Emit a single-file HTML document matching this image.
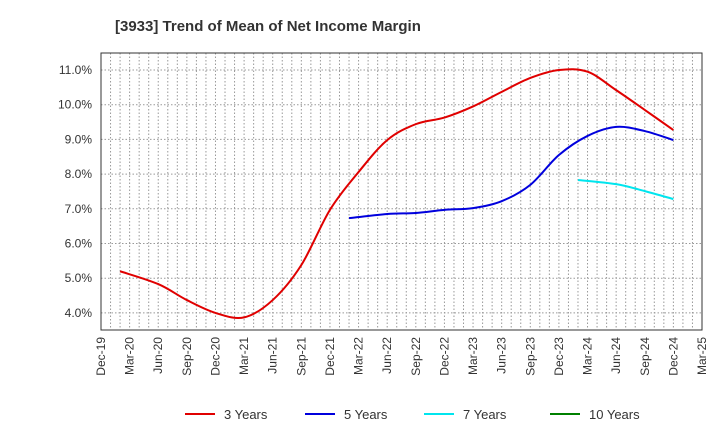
<!DOCTYPE html>
<html><head><meta charset="utf-8"><style>
body{margin:0;background:#fff;font-family:"Liberation Sans",sans-serif;}
</style></head><body>
<svg width="720" height="440" xmlns="http://www.w3.org/2000/svg" font-family="Liberation Sans, sans-serif">
<text x="115" y="31" font-size="15" font-weight="bold" fill="#333">[3933]  Trend of Mean of Net Income Margin</text>
<g id="grid"></g>
<rect x="101" y="53" width="601" height="277" fill="none" stroke="#333" stroke-width="1"/>
<g id="ylab"></g><g id="xlab"></g><g id="series"></g><g id="legend"></g>
</svg>
<script>
const xLabels=["Dec-19","Mar-20","Jun-20","Sep-20","Dec-20","Mar-21","Jun-21","Sep-21","Dec-21","Mar-22","Jun-22","Sep-22","Dec-22","Mar-23","Jun-23","Sep-23","Dec-23","Mar-24","Jun-24","Sep-24","Dec-24","Mar-25"];
const yTicks=[4,5,6,7,8,9,10,11];
const s3=[null,5.2,4.83,4.37,4.0,3.87,4.37,5.38,6.97,8.06,8.98,9.44,9.63,9.95,10.37,10.77,11.0,10.95,10.42,9.85,9.27];
const s5=[null,null,null,null,null,null,null,null,null,6.73,6.85,6.88,6.97,7.02,7.22,7.69,8.55,9.1,9.36,9.24,8.98];
const s7=[null,null,null,null,null,null,null,null,null,null,null,null,null,null,null,null,null,7.83,7.71,7.51,7.28];
const s10=[];
const firstOffset=-1/3;
const NS="http://www.w3.org/2000/svg";
const L=101,R=702,T=53,B=330;
const X=i=>L+i*(R-L)/21;
const Y=v=>70+(11-v)*34.7;
function mk(t,a,p){const e=document.createElementNS(NS,t);for(const k in a)e.setAttribute(k,a[k]);p.appendChild(e);return e;}
const g=document.getElementById('grid');
for(let m=1;m<63;m++){const x=L+m*(R-L)/63;const l=mk('line',{x1:x,x2:x,y1:T,y2:B,stroke:'#999','stroke-dasharray':'1.5,2','stroke-width':1},g);

}
const yl=document.getElementById('ylab');
yTicks.forEach(v=>{const l=mk('line',{x1:L,x2:R,y1:Y(v),y2:Y(v),stroke:'#999','stroke-dasharray':'1.5,2'},g);


const t=mk('text',{x:92,y:Y(v)+4,'font-size':12,'text-anchor':'end',fill:'#333'},yl);t.textContent=v.toFixed(1)+'%';

});
const xl=document.getElementById('xlab');
xLabels.forEach((s,i)=>{const x=X(i)+4,y=337;const t=mk('text',{x:x,y:y,'font-size':12,'text-anchor':'end',fill:'#333',transform:`rotate(-90 ${x} ${y})`},xl);t.textContent=s;

});
function path(d){const p=[];let first=true;d.forEach((v,i)=>{if(v!=null){p.push([X(first?i+firstOffset:i),Y(v)]);first=false;}});if(p.length<2)return'';
let s=`M${p[0][0]},${p[0][1]}`;for(let i=0;i<p.length-1;i++){const p0=p[i-1]||p[i],p1=p[i],p2=p[i+1],p3=p[i+2]||p2;
const c1=[p1[0]+(p2[0]-p0[0])/6,p1[1]+(p2[1]-p0[1])/6],c2=[p2[0]-(p3[0]-p1[0])/6,p2[1]-(p3[1]-p1[1])/6];
s+=`C${c1[0]},${c1[1]} ${c2[0]},${c2[1]} ${p2[0]},${p2[1]}`;}return s;}
const sg=document.getElementById('series');
[[s3,'#e00000','series-3-years'],[s5,'#0000dd','series-5-years'],[s7,'#00e5ee','series-7-years'],[s10,'#008000','series-10-years']].forEach(([d,c,n])=>{
const dd=path(d);if(!dd)return;const p=mk('path',{d:dd,fill:'none',stroke:c,'stroke-width':2},sg);

});
const lg=document.getElementById('legend');
[['3 Years','#e00000',185],['5 Years','#0000dd',305],['7 Years','#00e5ee',424],['10 Years','#008000',550]].forEach(([t,c,x])=>{
const gg=mk('g',{},lg);


mk('line',{x1:x,x2:x+30,y1:414,y2:414,stroke:c,'stroke-width':2},gg);
const tx=mk('text',{x:x+39,y:419,'font-size':13,fill:'#333'},gg);tx.textContent=t;});
</script>
</body></html>
